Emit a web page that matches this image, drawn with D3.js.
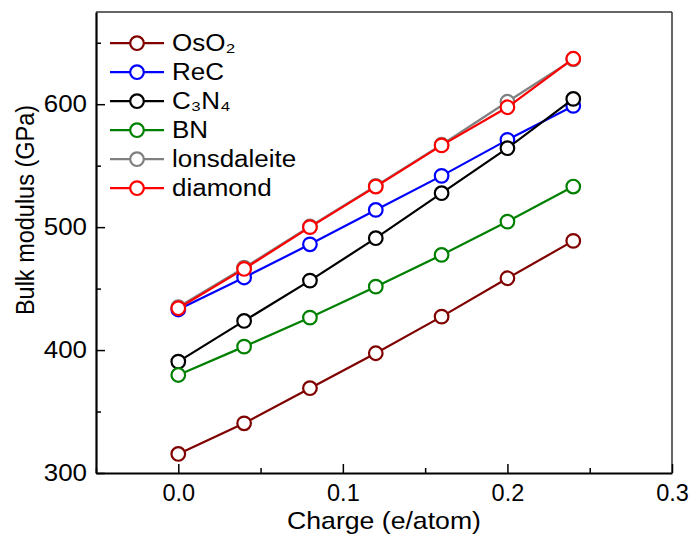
<!DOCTYPE html>
<html><head><meta charset="utf-8">
<script src="https://cdn.jsdelivr.net/npm/d3@7"></script>
<style>body{margin:0;background:#fff;} text{font-family:"Liberation Sans",Arial,sans-serif;}</style>
</head><body><svg id="c" width="689" height="542"></svg>
<script>
const charge = [0, 0.04, 0.08, 0.12, 0.16, 0.2, 0.24];
const seriesNames = ["OsO₂", "ReC", "C₃N₄", "BN", "lonsdaleite", "diamond"];
const seriesColors = ["#800000", "#0000ff", "#000000", "#008000", "#808080", "#ff0000"];
const OsO2 = [315.5, 340.4, 369, 397.4, 427.2, 458.4, 488.8];
const ReC = [433, 459, 486, 514, 541.7, 571, 598.6];
const C3N4 = [390.6, 423.7, 456.5, 491, 527.6, 564.2, 604.3];
const BN = [379.7, 402.8, 426.4, 451.6, 477.4, 504.5, 533];
const lonsdaleite = [435, 467, 500.5, 533.5, 567, 602, 636.5];
const diamond = [434, 466, 500, 533, 566.5, 597.5, 637];
const seriesValues = [OsO2, ReC, C3N4, BN, lonsdaleite, diamond];
const xTicks = [0.0, 0.1, 0.2, 0.3];
const xMinor = [-0.05, 0.05, 0.15, 0.25];
const yTicks = [300, 400, 500, 600];
const yMinor = [350, 450, 550, 650];

const svg = d3.select("#c");
const L = 96, R = 672, T = 12, B = 473;
const x = d3.scaleLinear().domain([-0.05, 0.3]).range([L, R]);
const y = d3.scaleLinear().domain([300, 675]).range([B, T]);
const SX = 1.08;

// frame top/right
svg.append("line").attr("x1", L).attr("x2", R).attr("y1", T).attr("y2", T).attr("stroke", "#333").attr("stroke-width", 1.5);
svg.append("line").attr("x1", R).attr("x2", R).attr("y1", T).attr("y2", B).attr("stroke", "#333").attr("stroke-width", 1.5);

// bottom axis
const xa = svg.append("g").attr("transform", `translate(0,${B})`)
  .call(d3.axisBottom(x).tickValues(xTicks).tickFormat(d3.format(".1f")).tickSizeInner(-9).tickSizeOuter(0).tickPadding(11));
xa.selectAll(".tick line").attr("stroke-width", 1.5);
xa.select(".domain").attr("stroke-width", 2.2);
xa.selectAll("text").attr("font-size", 23.5).attr("fill", "#000").attr("font-family", "Liberation Sans, Arial, sans-serif");
const xm = svg.append("g").attr("transform", `translate(0,${B})`)
  .call(d3.axisBottom(x).tickValues(xMinor).tickFormat("").tickSizeInner(-5).tickSizeOuter(0));
xm.select(".domain").remove();
xm.selectAll(".tick line").attr("stroke-width", 1.5);

// left axis
const ya = svg.append("g").attr("transform", `translate(${L},0)`)
  .call(d3.axisLeft(y).tickValues(yTicks).tickSizeInner(-9).tickSizeOuter(0).tickPadding(9));
ya.selectAll(".tick line").attr("stroke-width", 1.5);
ya.select(".domain").attr("stroke-width", 2.2);
ya.selectAll("text").attr("font-size", 24).attr("fill", "#000").attr("font-family", "Liberation Sans, Arial, sans-serif")
  .attr("x", null).attr("transform", `translate(-9,0) scale(${SX},1)`);
const ym = svg.append("g").attr("transform", `translate(${L},0)`)
  .call(d3.axisLeft(y).tickValues(yMinor).tickFormat("").tickSizeInner(-5).tickSizeOuter(0));
ym.select(".domain").remove();
ym.selectAll(".tick line").attr("stroke-width", 1.5);

// titles
svg.append("text").attr("transform", `translate(${(L + R) / 2},529) scale(1.11,1)`).attr("text-anchor", "middle").attr("font-size", 24).text("Charge (e/atom)");
svg.append("text").attr("transform", `translate(34,210) rotate(-90) scale(1,1.1)`).attr("text-anchor", "middle").attr("font-size", 23.5).text("Bulk modulus (GPa)");

// series
const line = d3.line().x((d, i) => x(charge[i])).y(d => y(d));
seriesValues.forEach((vals, k) => {
  const g = svg.append("g");
  g.append("path").datum(vals).attr("d", line).attr("fill", "none").attr("stroke", seriesColors[k]).attr("stroke-width", 2.2);
  g.selectAll("circle").data(vals).enter().append("circle")
    .attr("cx", (d, i) => x(charge[i])).attr("cy", d => y(d)).attr("r", 6.8)
    .attr("fill", "#fff").attr("stroke", seriesColors[k]).attr("stroke-width", 2.2);
});

// legend
const leg = svg.append("g");
seriesNames.forEach((name, k) => {
  const ly = 43.2 + k * 29;
  leg.append("line").attr("x1", 110).attr("x2", 164).attr("y1", ly).attr("y2", ly).attr("stroke", seriesColors[k]).attr("stroke-width", 2.2);
  leg.append("circle").attr("cx", 137).attr("cy", ly).attr("r", 6.8).attr("fill", "#fff").attr("stroke", seriesColors[k]).attr("stroke-width", 2.2);
  leg.append("text").attr("transform", `translate(172,${ly + 8}) scale(1.13,1)`).attr("font-size", 23).text(name);
});
</script></body></html>
